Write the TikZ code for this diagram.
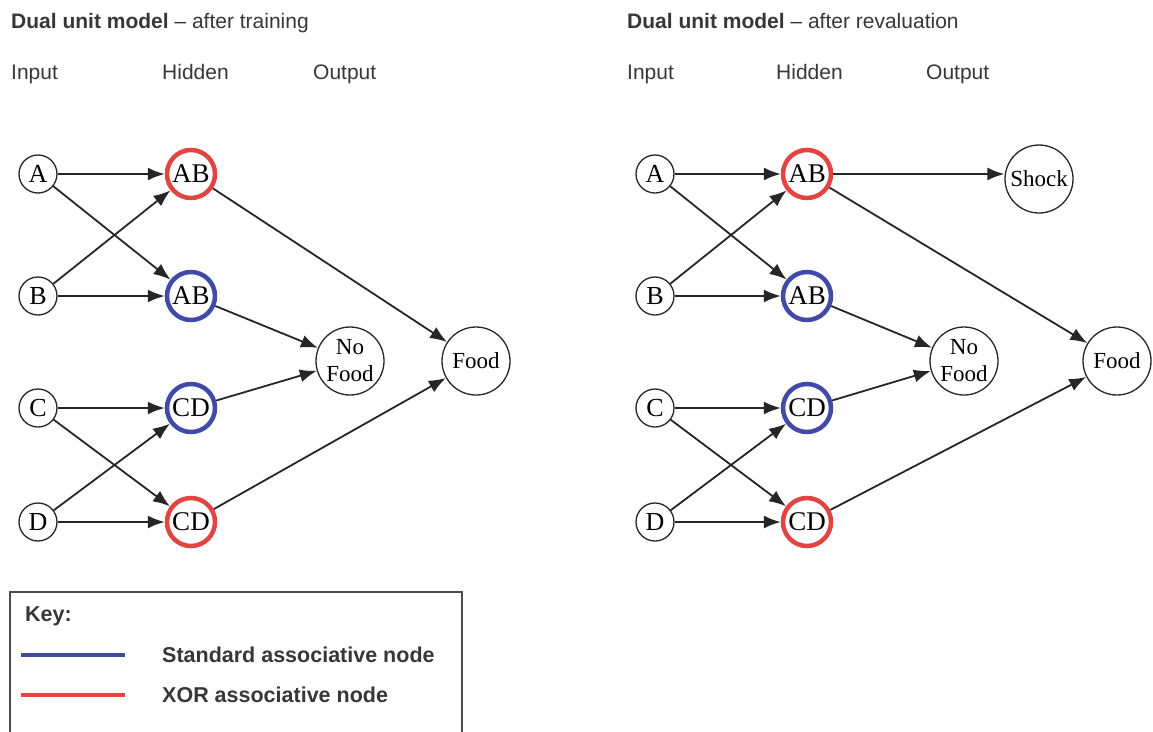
\documentclass[tikz,border=0pt]{standalone}
\usepackage{fontspec}
\setmainfont{Liberation Serif}
\setsansfont{Liberation Sans}
\usepackage{tikz}
\usetikzlibrary{arrows.meta,positioning}
\definecolor{stdblue}{RGB}{66,74,168}
\definecolor{xorred}{RGB}{226,68,66}
\definecolor{inktext}{RGB}{55,55,55}
\tikzset{
    inp/.style={circle,draw=black!85,line width=1.3pt,minimum size=38pt,inner sep=0pt,font=\fontsize{26}{28}\selectfont},
    hid/.style={circle,draw,line width=4.5pt,minimum size=48pt,inner sep=0pt,font=\fontsize{27}{29}\selectfont},
    outp/.style={circle,draw=black!85,line width=1.3pt,minimum size=68pt,inner sep=0pt,align=center,font=\fontsize{23}{27}\selectfont},
    lbl/.style={anchor=base west,inner sep=0pt,text=inktext,font=\sffamily\fontsize{21}{24}\selectfont},
    keylbl/.style={lbl,font=\sffamily\bfseries\fontsize{21.5}{24}\selectfont},
    arrow/.style={-{Latex[length=17pt,width=13pt]},line width=1.8pt,black!85}
}

\begin{document}
\begin{tikzpicture}[x=1pt,y=-1pt]
    \useasboundingbox (0,0) rectangle (1153,731);

    % after training
    \node[lbl] (ltitle) at (11,28) {\textbf{Dual unit model} \textendash{} after training};
    \node[lbl] (linput) at (11,79) {Input};
    \node[lbl] (lhidden) at (162,79) {Hidden};
    \node[lbl] (loutput) at (313,79) {Output};

    \node[inp] (A) at (38,174) {A};
    \node[inp] (B) at (38,296) {B};
    \node[inp] (C) at (38,408) {C};
    \node[inp] (D) at (38,522) {D};
    \node[hid,draw=xorred] (ABx) at (191,174) {AB};
    \node[hid,draw=stdblue] (ABs) at (191,296) {AB};
    \node[hid,draw=stdblue] (CDs) at (191,408) {CD};
    \node[hid,draw=xorred] (CDx) at (191,522) {CD};
    \node[outp] (nofood) at (350,361) {No\\Food};
    \node[outp] (food) at (476,361) {Food};

    \draw[arrow] (A) -- (ABx);
    \draw[arrow] (A) -- (ABs);
    \draw[arrow] (B) -- (ABx);
    \draw[arrow] (B) -- (ABs);
    \draw[arrow] (C) -- (CDs);
    \draw[arrow] (C) -- (CDx);
    \draw[arrow] (D) -- (CDs);
    \draw[arrow] (D) -- (CDx);
    \draw[arrow] (ABx) -- (food);
    \draw[arrow] (ABs) -- (nofood);
    \draw[arrow] (CDs) -- (nofood);
    \draw[arrow] (CDx) -- (food);

    % after revaluation
    \node[lbl] (rtitle) at (627,28) {\textbf{Dual unit model} \textendash{} after revaluation};
    \node[lbl] (rinput) at (627,79) {Input};
    \node[lbl] (rhidden) at (776,79) {Hidden};
    \node[lbl] (routput) at (926,79) {Output};

    \node[inp] (rA) at (655,174) {A};
    \node[inp] (rB) at (655,296) {B};
    \node[inp] (rC) at (655,408) {C};
    \node[inp] (rD) at (655,522) {D};
    \node[hid,draw=xorred] (rABx) at (807,174) {AB};
    \node[hid,draw=stdblue] (rABs) at (807,296) {AB};
    \node[hid,draw=stdblue] (rCDs) at (807,408) {CD};
    \node[hid,draw=xorred] (rCDx) at (807,522) {CD};
    \node[outp] (shock) at (1039,179) {Shock};
    \node[outp] (rnofood) at (964,361) {No\\Food};
    \node[outp] (rfood) at (1117,361) {Food};

    \draw[arrow] (rA) -- (rABx);
    \draw[arrow] (rA) -- (rABs);
    \draw[arrow] (rB) -- (rABx);
    \draw[arrow] (rB) -- (rABs);
    \draw[arrow] (rC) -- (rCDs);
    \draw[arrow] (rC) -- (rCDx);
    \draw[arrow] (rD) -- (rCDs);
    \draw[arrow] (rD) -- (rCDx);
    \draw[arrow] (rABx.east) -- (shock.west |- rABx.east);
    \draw[arrow] (rABx) -- (rfood);
    \draw[arrow] (rABs) -- (rnofood);
    \draw[arrow] (rCDs) -- (rnofood);
    \draw[arrow] (rCDx) -- (rfood);

    % key
    \draw[black!70,line width=1.2pt] (10,740) -- (10,592) -- (462,592) -- (462,740);
    \node[keylbl] (keyhead) at (25,621) {Key:};
    \node[keylbl] (stdtxt) at (162,662) {Standard associative node};
    \node[keylbl] (xortxt) at (162,702) {XOR associative node};
    \draw[stdblue,line width=4pt] (21,655) -- (125,655);
    \draw[xorred,line width=4pt] (21,695) -- (125,695);
\end{tikzpicture}
\end{document}
